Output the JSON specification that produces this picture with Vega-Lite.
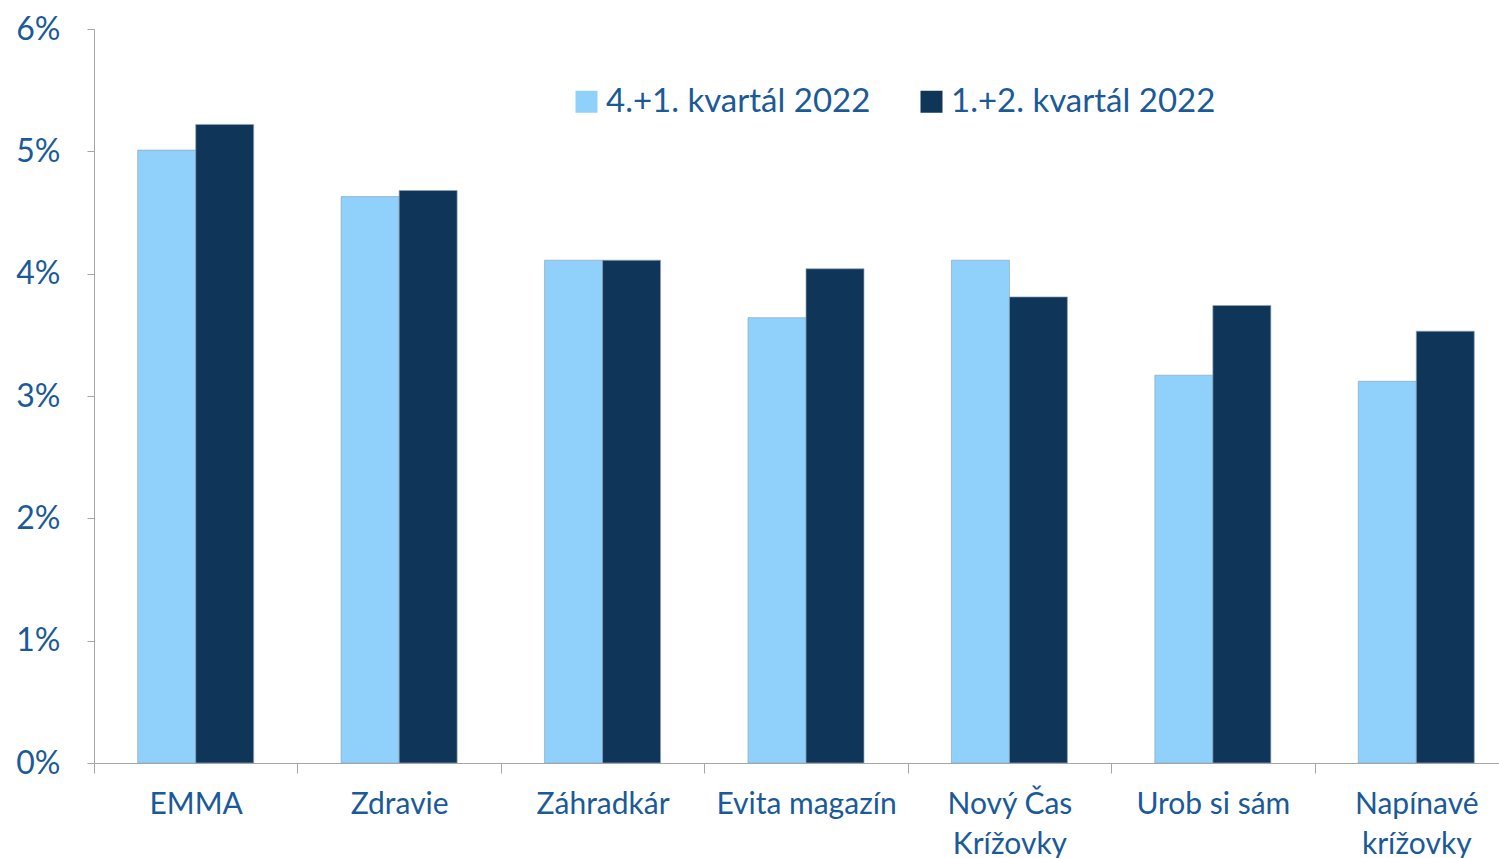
{
  "$schema": "https://vega.github.io/schema/vega-lite/v6.json",
  "width": 1405,
  "height": 734,
  "autosize": {"type": "none"},
  "padding": {"left": 94, "top": 29, "right": 0, "bottom": 95},
  "background": "white",
  "config": {
    "view": {"stroke": null},
    "font": "Lato",
    "axis": {"grid": false, "domainColor": "#A6A6A6", "tickColor": "#A6A6A6", "labelColor": "#1B5A98", "labelFont": "Lato"}
  },
  "data": {
    "values": [
      {"titul": "EMMA", "obdobie": "4.+1. kvartál 2022", "hodnota": 0.0501},
      {"titul": "EMMA", "obdobie": "1.+2. kvartál 2022", "hodnota": 0.0522},
      {"titul": "Zdravie", "obdobie": "4.+1. kvartál 2022", "hodnota": 0.0463},
      {"titul": "Zdravie", "obdobie": "1.+2. kvartál 2022", "hodnota": 0.0468},
      {"titul": "Záhradkár", "obdobie": "4.+1. kvartál 2022", "hodnota": 0.0411},
      {"titul": "Záhradkár", "obdobie": "1.+2. kvartál 2022", "hodnota": 0.0411},
      {"titul": "Evita magazín", "obdobie": "4.+1. kvartál 2022", "hodnota": 0.0364},
      {"titul": "Evita magazín", "obdobie": "1.+2. kvartál 2022", "hodnota": 0.0404},
      {"titul": "Nový Čas Krížovky", "obdobie": "4.+1. kvartál 2022", "hodnota": 0.0411},
      {"titul": "Nový Čas Krížovky", "obdobie": "1.+2. kvartál 2022", "hodnota": 0.0381},
      {"titul": "Urob si sám", "obdobie": "4.+1. kvartál 2022", "hodnota": 0.0317},
      {"titul": "Urob si sám", "obdobie": "1.+2. kvartál 2022", "hodnota": 0.0374},
      {"titul": "Napínavé krížovky", "obdobie": "4.+1. kvartál 2022", "hodnota": 0.0312},
      {"titul": "Napínavé krížovky", "obdobie": "1.+2. kvartál 2022", "hodnota": 0.0353}
    ]
  },
  "mark": {"type": "bar", "stroke": "#8FA6BD", "strokeWidth": 1, "strokeOpacity": 0.7},
  "encoding": {
    "x": {
      "field": "titul",
      "type": "nominal",
      "sort": null,
      "scale": {"paddingInner": 0, "paddingOuter": 0, "range": [0, 1424]},
      "axis": {
        "title": null,
        "labelAngle": 0,
        "labelFontSize": 30,
        "labelLimit": 400,
        "tickBand": "extent",
        "tickSize": 10,
        "labelPadding": 16,
        "labelLineHeight": 40,
        "labelBaseline": "top",
        "labelExpr": "datum.label == 'Nový Čas Krížovky' ? ['Nový Čas', 'Krížovky'] : datum.label == 'Napínavé krížovky' ? ['Napínavé', 'krížovky'] : datum.label"
      }
    },
    "xOffset": {
      "field": "obdobie",
      "type": "nominal",
      "sort": ["4.+1. kvartál 2022", "1.+2. kvartál 2022"],
      "scale": {"paddingInner": 0, "paddingOuter": 0.754}
    },
    "y": {
      "field": "hodnota",
      "type": "quantitative",
      "scale": {"domain": [0, 0.06]},
      "axis": {
        "title": null,
        "format": ".0%",
        "values": [0, 0.01, 0.02, 0.03, 0.04, 0.05, 0.06],
        "labelFontSize": 32,
        "tickSize": 7,
        "labelPadding": 27
      }
    },
    "color": {
      "field": "obdobie",
      "type": "nominal",
      "sort": ["4.+1. kvartál 2022", "1.+2. kvartál 2022"],
      "scale": {"range": ["#8FD1FA", "#0F3558"]},
      "legend": {
        "title": null,
        "orient": "none",
        "legendX": 476,
        "legendY": 56,
        "direction": "horizontal",
        "symbolType": "square",
        "symbolSize": 484,
        "symbolStrokeWidth": 0,
        "labelFontSize": 33,
        "labelColor": "#1B5A98",
        "labelFont": "Lato",
        "labelLimit": 400,
        "labelOffset": 3,
        "columnPadding": 44
      }
    }
  }
}
